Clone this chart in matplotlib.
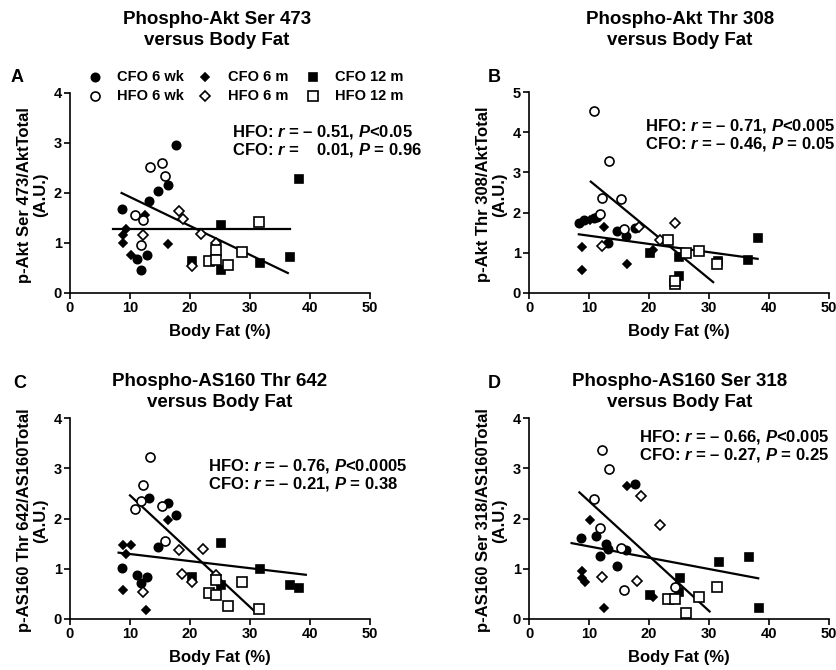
import matplotlib
matplotlib.use("Agg")
import matplotlib.pyplot as plt

plt.rcParams['font.family'] = ['Liberation Sans', 'DejaVu Sans']
plt.rcParams['font.weight'] = 'bold'
plt.rcParams['mathtext.fontset'] = 'custom'
plt.rcParams['mathtext.it'] = 'Liberation Sans:style=italic:weight=bold'
plt.rcParams['mathtext.rm'] = 'Liberation Sans:weight=bold'

W, H = 836, 670

# ---- panel A: p-Akt Ser 473 ----
A_CFO6WK_X = [8.6, 17.7, 14.6, 16.4, 13.2, 11.1, 12.9, 11.9]
A_CFO6WK_Y = [1.69, 2.97, 2.05, 2.17, 1.85, 0.68, 0.77, 0.46]
A_CFO6M_X = [9.3, 8.9, 8.9, 10.2, 12.5, 16.4]
A_CFO6M_Y = [1.28, 1.16, 1.01, 0.76, 1.56, 0.98]
A_CFO12M_X = [20.3, 25.2, 25.2, 31.7, 36.7, 38.2]
A_CFO12M_Y = [0.65, 1.37, 0.46, 0.61, 0.73, 2.28]
A_HFO6WK_X = [13.3, 15.4, 15.9, 10.8, 12.2, 11.9]
A_HFO6WK_Y = [2.52, 2.61, 2.34, 1.57, 1.46, 0.96]
A_HFO6M_X = [18.1, 18.8, 12.2, 21.9, 24.4, 20.4]
A_HFO6M_Y = [1.64, 1.49, 1.16, 1.19, 1.01, 0.55]
A_HFO12M_X = [23.2, 24.4, 24.4, 26.3, 28.6, 31.5]
A_HFO12M_Y = [0.65, 0.87, 0.66, 0.56, 0.83, 1.42]
A_HFO_FIT_X = [8.6, 36.3]
A_HFO_FIT_Y = [2.00, 0.40]
A_CFO_FIT_X = [7.1, 36.6]
A_CFO_FIT_Y = [1.28, 1.28]

# ---- panel B: p-Akt Thr 308 ----
B_CFO6WK_X = [8.4, 9.1, 10.9, 11.3, 14.6, 16.2, 13.1, 17.6]
B_CFO6WK_Y = [1.75, 1.81, 1.87, 1.90, 1.54, 1.41, 1.25, 1.62]
B_CFO6M_X = [10.1, 8.8, 8.9, 12.5, 16.4, 20.6]
B_CFO6M_Y = [1.81, 1.15, 0.58, 1.64, 0.73, 1.06]
B_CFO12M_X = [20.1, 25.0, 25.0, 31.5, 36.5, 38.2]
B_CFO12M_Y = [1.00, 0.90, 0.42, 0.79, 0.83, 1.36]
B_HFO6WK_X = [10.8, 13.3, 12.2, 15.4, 11.9, 15.8]
B_HFO6WK_Y = [4.53, 3.29, 2.37, 2.35, 1.97, 1.58]
B_HFO6M_X = [18.3, 24.4, 21.9, 12.1]
B_HFO6M_Y = [1.64, 1.73, 1.33, 1.18]
B_HFO12M_X = [23.1, 26.1, 28.4, 31.4, 24.4, 24.4]
B_HFO12M_Y = [1.33, 1.00, 1.04, 0.71, 0.22, 0.29]
B_HFO_FIT_X = [10.3, 30.7]
B_HFO_FIT_Y = [2.77, 0.27]
B_CFO_FIT_X = [8.3, 38.1]
B_CFO_FIT_Y = [1.46, 0.85]

# ---- panel C: p-AS160 Thr 642 ----
C_CFO6WK_X = [13.2, 16.4, 17.7, 14.6, 8.6, 11.1, 12.9, 11.9]
C_CFO6WK_Y = [2.41, 2.30, 2.06, 1.44, 1.01, 0.88, 0.83, 0.72]
C_CFO6M_X = [8.9, 10.2, 9.3, 8.9, 12.6, 16.4]
C_CFO6M_Y = [1.47, 1.48, 1.30, 0.58, 0.18, 1.97]
C_CFO12M_X = [25.2, 20.3, 25.2, 31.7, 36.7, 38.2]
C_CFO12M_Y = [1.52, 0.84, 0.68, 0.99, 0.68, 0.62]
C_HFO6WK_X = [13.3, 12.2, 11.9, 10.8, 15.4, 15.8]
C_HFO6WK_Y = [3.23, 2.67, 2.34, 2.19, 2.25, 1.56]
C_HFO6M_X = [18.1, 22.1, 18.6, 20.4, 12.2, 24.4]
C_HFO6M_Y = [1.38, 1.39, 0.89, 0.73, 0.54, 0.87]
C_HFO12M_X = [24.4, 23.2, 24.4, 26.3, 28.6, 31.5]
C_HFO12M_Y = [0.77, 0.51, 0.48, 0.25, 0.74, 0.20]
C_HFO_FIT_X = [10.0, 30.8]
C_HFO_FIT_Y = [2.46, 0.15]
C_CFO_FIT_X = [8.1, 39.3]
C_CFO_FIT_Y = [1.32, 0.88]

# ---- panel D: p-AS160 Ser 318 ----
D_CFO6WK_X = [8.6, 11.1, 12.8, 13.1, 16.2, 11.9, 14.6, 17.6]
D_CFO6WK_Y = [1.61, 1.66, 1.49, 1.40, 1.37, 1.26, 1.06, 2.69]
D_CFO6M_X = [16.4, 10.1, 8.8, 8.9, 9.3, 12.5, 20.6]
D_CFO6M_Y = [2.64, 1.98, 0.96, 0.82, 0.74, 0.22, 0.43]
D_CFO12M_X = [20.1, 25.1, 25.0, 31.6, 36.6, 38.3]
D_CFO12M_Y = [0.48, 0.81, 0.53, 1.14, 1.24, 0.21]
D_HFO6WK_X = [12.2, 13.3, 10.8, 11.9, 15.4, 15.8, 24.4]
D_HFO6WK_Y = [3.36, 2.99, 2.38, 1.81, 1.41, 0.58, 0.63]
D_HFO6M_X = [18.6, 21.9, 12.2, 18.0]
D_HFO6M_Y = [2.44, 1.88, 0.83, 0.75]
D_HFO12M_X = [23.1, 24.4, 26.1, 28.4, 31.4]
D_HFO12M_Y = [0.40, 0.40, 0.11, 0.43, 0.63]
D_HFO_FIT_X = [8.4, 30.1]
D_HFO_FIT_Y = [2.52, 0.15]
D_CFO_FIT_X = [7.1, 38.2]
D_CFO_FIT_Y = [1.51, 0.81]

TITLES = ["Phospho-Akt Ser 473\nversus Body Fat", "Phospho-Akt Thr 308\nversus Body Fat",
          "Phospho-AS160 Thr 642\nversus Body Fat", "Phospho-AS160 Ser 318\nversus Body Fat"]
YLABELS = ["p-Akt Ser 473/AktTotal\n(A.U.)", "p-Akt Thr 308/AktTotal\n(A.U.)",
           "p-AS160 Thr 642/AS160Total\n(A.U.)", "p-AS160 Ser 318/AS160Total\n(A.U.)"]
STATS = [["HFO: $r$ = \u2013 0.51, $P$<0.05", "CFO: $r$ =    0.01, $P$ = 0.96"],
         ["HFO: $r$ = \u2013 0.71, $P$<0.005", "CFO: $r$ = \u2013 0.46, $P$ = 0.05"],
         ["HFO: $r$ = \u2013 0.76, $P$<0.0005", "CFO: $r$ = \u2013 0.21, $P$ = 0.38"],
         ["HFO: $r$ = \u2013 0.66, $P$<0.005", "CFO: $r$ = \u2013 0.27, $P$ = 0.25"]]
LETTERS = ["A", "B", "C", "D"]
YMAX = [4, 5, 4, 4]
LEGEND_LABELS = ["CFO 6 wk", "CFO 6 m", "CFO 12 m", "HFO 6 wk", "HFO 6 m", "HFO 12 m"]

# marker styles per group: (marker, size, filled)
STYLES = [('o', 6, True), ('D', 4.2, True), ('s', 5.5, True),
          ('o', 6.5, False), ('D', 5, False), ('s', 6.5, False)]

panels = [
    [(A_CFO6WK_X, A_CFO6WK_Y), (A_CFO6M_X, A_CFO6M_Y), (A_CFO12M_X, A_CFO12M_Y),
     (A_HFO6WK_X, A_HFO6WK_Y), (A_HFO6M_X, A_HFO6M_Y), (A_HFO12M_X, A_HFO12M_Y)],
    [(B_CFO6WK_X, B_CFO6WK_Y), (B_CFO6M_X, B_CFO6M_Y), (B_CFO12M_X, B_CFO12M_Y),
     (B_HFO6WK_X, B_HFO6WK_Y), (B_HFO6M_X, B_HFO6M_Y), (B_HFO12M_X, B_HFO12M_Y)],
    [(C_CFO6WK_X, C_CFO6WK_Y), (C_CFO6M_X, C_CFO6M_Y), (C_CFO12M_X, C_CFO12M_Y),
     (C_HFO6WK_X, C_HFO6WK_Y), (C_HFO6M_X, C_HFO6M_Y), (C_HFO12M_X, C_HFO12M_Y)],
    [(D_CFO6WK_X, D_CFO6WK_Y), (D_CFO6M_X, D_CFO6M_Y), (D_CFO12M_X, D_CFO12M_Y),
     (D_HFO6WK_X, D_HFO6WK_Y), (D_HFO6M_X, D_HFO6M_Y), (D_HFO12M_X, D_HFO12M_Y)],
]
fits = [
    [(A_HFO_FIT_X, A_HFO_FIT_Y), (A_CFO_FIT_X, A_CFO_FIT_Y)],
    [(B_HFO_FIT_X, B_HFO_FIT_Y), (B_CFO_FIT_X, B_CFO_FIT_Y)],
    [(C_HFO_FIT_X, C_HFO_FIT_Y), (C_CFO_FIT_X, C_CFO_FIT_Y)],
    [(D_HFO_FIT_X, D_HFO_FIT_Y), (D_CFO_FIT_X, D_CFO_FIT_Y)],
]


def fx(x):
    return x / W


def fy(y):
    return 1 - y / H


fig = plt.figure(figsize=(W / 100, H / 100), dpi=100)

# axes boxes in pixels: left, top, right, bottom
boxes = [(70, 93, 370, 293), (529, 92, 829, 293), (70, 418, 370, 619), (529, 418, 829, 619)]
title_pos = [(217, 30), (680, 30), (220, 392), (680, 392)]
letter_pos = [(17, 77), (494, 77), (20, 383), (494, 383)]
stat_pos = [(232, 132), (645, 126), (208, 466), (639, 437)]

for i, (l, t, r, b) in enumerate(boxes):
    ax = fig.add_axes([fx(l), fy(b), (r - l) / W, (b - t) / H])
    for (mk, ms, filled), (xs, ys) in zip(STYLES, panels[i]):
        ax.plot(xs, ys, linestyle='none', marker=mk, markersize=ms,
                markerfacecolor='black' if filled else 'white',
                markeredgecolor='black', markeredgewidth=1.2, clip_on=False, zorder=3)
    for xs, ys in fits[i]:
        ax.plot(xs, ys, color='black', linewidth=1.6, zorder=2)
    ax.set_xlim(0, 50)
    ax.set_ylim(0, YMAX[i])
    ax.set_xticks(range(0, 51, 10))
    ax.set_yticks(range(0, YMAX[i] + 1))
    for s in ['top', 'right']:
        ax.spines[s].set_visible(False)
    for s in ['left', 'bottom']:
        ax.spines[s].set_linewidth(1.2)
    ax.tick_params(direction='out', length=4, width=1.2, labelsize=10.5, pad=2)
    for lab in ax.get_xticklabels() + ax.get_yticklabels():
        lab.set_fontweight('bold')
    ax.set_xlabel("Body Fat (%)", fontsize=12, fontweight='bold', labelpad=6)
    fig.text(fx(l - 37), fy((t + b) / 2 + 2), YLABELS[i], rotation=90, ha='center', va='center',
             multialignment='center', fontsize=12, fontweight='bold', linespacing=1.1)
    fig.text(fx(title_pos[i][0]), fy(title_pos[i][1]), TITLES[i], ha='center', va='center',
             multialignment='center', fontsize=13.5, fontweight='bold', linespacing=1.3)
    fig.text(fx(letter_pos[i][0]), fy(letter_pos[i][1]), LETTERS[i], ha='center', va='center',
             fontsize=13, fontweight='bold')
    sx, sy = stat_pos[i]
    fig.text(fx(sx), fy(sy), STATS[i][0], ha='left', va='center', fontsize=12, fontweight='bold')
    fig.text(fx(sx), fy(sy + 18), STATS[i][1], ha='left', va='center', fontsize=12, fontweight='bold')

# legend (top of panel A)
leg_mx = [95, 205, 313]
leg_tx = [117, 228, 335]
leg_y = [77, 96]
for k, (mk, ms, filled) in enumerate(STYLES):
    row, col = divmod(k, 3)
    fig.add_artist(plt.Line2D([fx(leg_mx[col])], [fy(leg_y[row])], linestyle='none', marker=mk,
                              markersize=ms, markerfacecolor='black' if filled else 'white',
                              markeredgecolor='black', markeredgewidth=1.2,
                              transform=fig.transFigure))
    fig.text(fx(leg_tx[col]), fy(leg_y[row]), LEGEND_LABELS[k], ha='left', va='center',
             fontsize=10.5, fontweight='bold')

fig.savefig("out.png", dpi=100)
